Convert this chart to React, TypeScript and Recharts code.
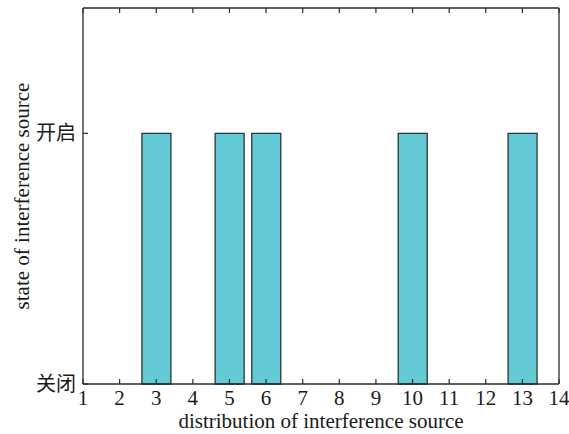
import { Bar, BarChart, XAxis, YAxis } from "recharts";

// interference source positions that are switched on
const sourceIds = [3, 5, 6, 10, 13];
const sourceState = [1, 1, 1, 1, 1];
const xTicks = [1, 2, 3, 4, 5, 6, 7, 8, 9, 10, 11, 12, 13, 14];
const yTicks = [0, 1];
const stateLabels = ["关闭", "开启"];

const data = sourceIds.map((id, i) => ({ id, state: sourceState[i] }));

const W = 569;
const H = 434;
const M = { top: 7, right: 9, left: 0, bottom: 0 };
const AXIS_W = 83;
const AXIS_H = 50;
const FS = 21;
const FONT = "'Liberation Serif', 'Times New Roman', 'Noto Sans CJK SC', serif";
const INK = "#2b2b2b";

const BottomTick = (p: any) => (
    <g>
        <line x1={p.x} y1={p.y} x2={p.x} y2={p.y - 5} stroke={INK} strokeWidth={1.2} />
        <text x={p.x} y={p.y + 21} textAnchor="middle" fontSize={FS} fontFamily={FONT} fill="#1a1a1a">
            {p.payload.value}
        </text>
    </g>
);

const TopTick = (p: any) => (
    <line x1={p.x} y1={p.y} x2={p.x} y2={p.y + 5} stroke={INK} strokeWidth={1.2} />
);

const LeftTick = (p: any) => (
    <g>
        <line x1={p.x} y1={p.y} x2={p.x + 5} y2={p.y} stroke={INK} strokeWidth={1.2} />
        <text x={p.x - 7} y={p.y} textAnchor="end" dominantBaseline="central" fontSize={FS - 1} fontFamily={FONT} fill="#1a1a1a">
            {stateLabels[p.payload.value]}
        </text>
    </g>
);

const RightTick = (p: any) =>
    p.payload.value === 0 ? <g /> : (
        <line x1={p.x} y1={p.y} x2={p.x - 5} y2={p.y} stroke={INK} strokeWidth={1.2} />
    );

export default function App() {
    return (
        <div style={{ position: "absolute", left: 0, top: 0, width: W, height: H, background: "#fff" }}>
            <BarChart width={W} height={H} data={data} margin={M}>
                <XAxis
                    xAxisId="b"
                    dataKey="id"
                    type="number"
                    domain={[1, 14]}
                    ticks={xTicks}
                    interval={0}
                    height={AXIS_H}
                    tickSize={0}
                    tickMargin={0}
                    tickLine={false}
                    stroke={INK}
                    strokeWidth={1.3}
                    tick={BottomTick}
                    label={{
                        content: (lp: any) => {
                            const vb = lp.viewBox;
                            return (
                                <text x={vb.x + vb.width / 2} y={vb.y + 44} textAnchor="middle" fontSize={FS} fontFamily={FONT} fill="#1a1a1a">
                                    distribution of interference source
                                </text>
                            );
                        },
                    }}
                />
                <XAxis
                    xAxisId="t"
                    orientation="top"
                    dataKey="id"
                    type="number"
                    domain={[1, 14]}
                    ticks={xTicks}
                    interval={0}
                    height={1}
                    tickSize={0}
                    tickMargin={0}
                    tickLine={false}
                    stroke={INK}
                    strokeWidth={1.3}
                    tick={TopTick}
                />
                <YAxis
                    yAxisId="l"
                    type="number"
                    domain={[0, 1.5]}
                    ticks={yTicks}
                    interval={0}
                    width={AXIS_W}
                    tickSize={0}
                    tickMargin={0}
                    tickLine={false}
                    stroke={INK}
                    strokeWidth={1.3}
                    tick={LeftTick}
                    label={{
                        content: (lp: any) => {
                            const vb = lp.viewBox;
                            const cx = 29;
                            const cy = vb.y + vb.height / 2;
                            return (
                                <text x={cx} y={cy} transform={`rotate(-90 ${cx} ${cy})`} textAnchor="middle" fontSize={FS} fontFamily={FONT} fill="#1a1a1a">
                                    state of interference source
                                </text>
                            );
                        },
                    }}
                />
                <YAxis
                    yAxisId="r"
                    orientation="right"
                    type="number"
                    domain={[0, 1.5]}
                    ticks={yTicks}
                    interval={0}
                    width={1}
                    tickSize={0}
                    tickMargin={0}
                    tickLine={false}
                    stroke={INK}
                    strokeWidth={1.3}
                    tick={RightTick}
                />
                <Bar
                    xAxisId="b"
                    yAxisId="l"
                    dataKey="state"
                    barSize={29}
                    fill="#63c9d4"
                    stroke="#2a3638"
                    strokeWidth={1.3}
                    isAnimationActive={false}
                />
            </BarChart>
        </div>
    );
}
